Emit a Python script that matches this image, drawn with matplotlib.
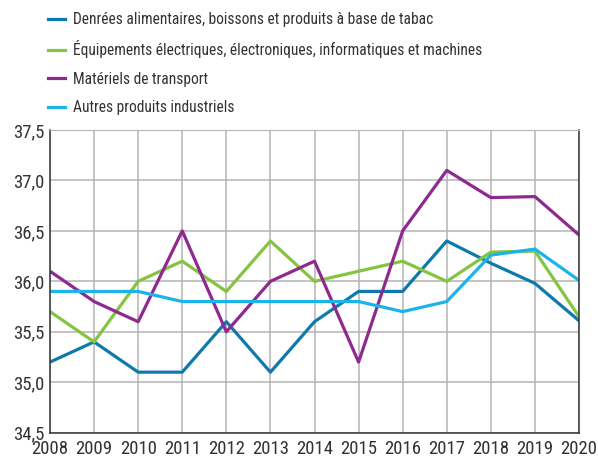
import matplotlib.pyplot as plt
from matplotlib import font_manager

# Données
annees = list(range(2008, 2021))
denrees = [35.2, 35.4, 35.1, 35.1, 35.6, 35.1, 35.6, 35.9, 35.9, 36.4, 36.18, 35.98, 35.61]
equipements = [35.7, 35.4, 36.0, 36.2, 35.9, 36.4, 36.0, 36.1, 36.2, 36.0, 36.29, 36.30, 35.65]
transport = [36.1, 35.8, 35.6, 36.5, 35.5, 36.0, 36.2, 35.2, 36.5, 37.1, 36.83, 36.84, 36.46]
autres = [35.9, 35.9, 35.9, 35.8, 35.8, 35.8, 35.8, 35.8, 35.7, 35.8, 36.26, 36.32, 36.01]

labels = [
    "Denrées alimentaires, boissons et produits à base de tabac",
    "Équipements électriques, électroniques, informatiques et machines",
    "Matériels de transport",
    "Autres produits industriels",
]
couleurs = ["#0e7aab", "#84c441", "#8e2a8f", "#1cb2ea"]

y_ticks = [34.5, 35.0, 35.5, 36.0, 36.5, 37.0, 37.5]
y_tick_labels = ["34,5", "35,0", "35,5", "36,0", "36,5", "37,0", "37,5"]

# Police étroite si disponible (l'original utilise une police condensée)
installed = {f.name for f in font_manager.fontManager.ttflist}
font_kw = {"family": "DejaVu Sans", "stretch": "condensed"}
for nom in ["Roboto Condensed", "Liberation Sans Narrow"]:
    if nom in installed:
        font_kw = {"family": nom}
        break
plt.rcParams['font.family'] = font_kw["family"]
if "stretch" in font_kw:
    plt.rcParams['font.stretch'] = font_kw["stretch"]

fig = plt.figure(figsize=(5.98, 4.59), dpi=100)
ax = fig.add_axes([50 / 598, 1 - 432.7 / 459, 529 / 598, 302.7 / 459])

for serie, label, color in zip([denrees, equipements, transport, autres], labels, couleurs):
    ax.plot(annees, serie, color=color, linewidth=2.3, label=label)

ax.set_xlim(2008, 2020)
ax.set_ylim(34.5, 37.5)
ax.set_xticks(annees)
ax.set_xticklabels([str(a) for a in annees], fontsize=13.5, color="#333333")
ax.set_yticks(y_ticks)
ax.set_yticklabels(y_tick_labels, fontsize=13.5, color="#333333")
ax.tick_params(axis="x", length=0, pad=5)
ax.tick_params(axis="y", length=0, pad=4)
ax.grid(True, color="#b4b4b4", linewidth=1.1)
ax.set_axisbelow(True)
for s in ["left", "bottom", "right"]:
    ax.spines[s].set_color("#333333")
    ax.spines[s].set_linewidth(1.1)
ax.spines["top"].set_color("#b4b4b4")

fig.legend(loc="upper left", bbox_to_anchor=(48 / 598, 1 - 12 / 459), frameon=False,
           fontsize=11.2, handlelength=1.09, handletextpad=0.51, labelspacing=0.86,
           borderaxespad=0, borderpad=0, labelcolor="#333333")

fig.savefig("out.png", dpi=100)
